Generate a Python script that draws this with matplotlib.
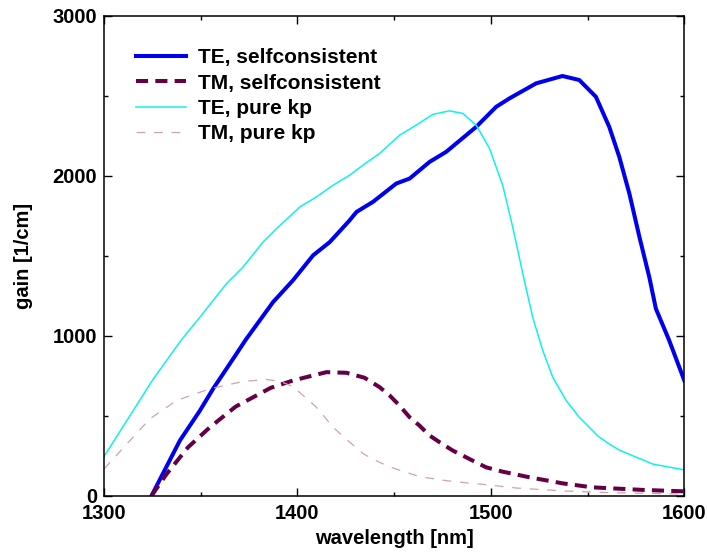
import matplotlib
matplotlib.use('Agg')
import matplotlib.pyplot as plt
from matplotlib.ticker import MultipleLocator

# TE, selfconsistent
te_sc_x=[1324.6,1339.2,1349.6,1356.4,1368.5,1373.3,1387.4,1397.7,1408.1,1416.7,1427,1430.5,1439,1451.1,1458,1468.3,1476.9,1492.4,1502.7,1509.6,1523.4,1537,1545.7,1554.3,1561.2,1566.4,1571.6,1576.8,1581.9,1585.3,1592.2,1600]
te_sc_y=[0,344,532,668,887,975,1210,1346,1502,1585,1721,1773,1836,1951,1982,2086,2149,2305,2430,2483,2577,2623,2598,2493,2305,2117,1888,1617,1366,1169,970,720]
# TM, selfconsistent
tm_sc_x=[1324.6,1332.4,1343.4,1354.7,1368.1,1386.2,1397.7,1415,1425.3,1434.7,1442.5,1447.7,1452.8,1458,1463.1,1468.3,1473.5,1480.3,1487.2,1492.4,1497.6,1506.1,1519.9,1537.1,1552.6,1578.4,1600]
tm_sc_y=[0,136,302,427,557,674,720,772,768,737,678,626,563,490,438,376,334,282,240,208,177,150,115,77,52,36,27]
# TE, pure kp
te_kp_x=[1300,1315.1,1325.5,1340.1,1349.6,1363.3,1371.9,1382.2,1389.2,1401.2,1409.8,1418.4,1427,1433.9,1442.5,1452.8,1461.4,1470,1478.6,1485.5,1492.4,1499.3,1506.1,1511.3,1516.5,1521.6,1526.8,1532,1538.9,1545.7,1555.7,1561.2,1566.4,1583.6,1600]
te_kp_y=[244,532,730,975,1116,1325,1429,1585,1669,1804,1867,1940,2003,2066,2139,2253,2316,2383,2405,2389,2316,2170,1940,1679,1388,1116,908,740,595,490,369,323,285,198,161]
# TM, pure kp
tm_kp_x=[1300,1313.4,1323.7,1337.5,1354.7,1371.9,1384,1390.9,1397.7,1409.8,1418.4,1427,1434.7,1442.5,1449.4,1463.1,1476.9,1489,1497.6,1513,1537.1,1561.2,1600]
tm_kp_y=[167,344,480,595,668,714,726,715,682,553,428,334,257,208,173,119,94,78,69,48,30,19,10]

plt.rcParams['font.family']=['Liberation Sans','DejaVu Sans']
plt.rcParams['font.weight']='bold'
fig=plt.figure(figsize=(7.07,5.56),dpi=100)
ax=fig.add_axes([0.1471,0.1085,0.8208,0.8633])

ax.plot(te_sc_x,te_sc_y,color='#0000f0',lw=2.9,label='TE, selfconsistent')
ax.plot(tm_sc_x,tm_sc_y,color='#650047',lw=2.9,ls=(0,(3,1.8)),label='TM, selfconsistent')
ax.plot(te_kp_x,te_kp_y,color='#10f0f0',lw=1.1,label='TE, pure kp')
ax.plot(tm_kp_x,tm_kp_y,color='#d0a4a4',lw=0.9,ls=(0,(7,7)),label='TM, pure kp')

ax.set_xlim(1300,1600)
ax.set_ylim(0,3000)
ax.xaxis.set_major_locator(MultipleLocator(100))
ax.xaxis.set_minor_locator(MultipleLocator(50))
ax.yaxis.set_major_locator(MultipleLocator(1000))
ax.yaxis.set_minor_locator(MultipleLocator(500))
for s in ax.spines.values():s.set_linewidth(1.1)
ax.tick_params(which='both',direction='in',top=True,right=True,labelsize=14.5,width=1)
ax.tick_params(which='major',length=5.5)
ax.tick_params(which='minor',length=3)
ax.tick_params(axis='x',pad=6)
ax.tick_params(axis='y',pad=5)
for lab in ax.get_xticklabels()+ax.get_yticklabels():lab.set_fontweight('bold')
ax.set_xlabel('wavelength [nm]',fontsize=14.5,fontweight='bold',labelpad=4)
ax.set_ylabel('gain [1/cm]',fontsize=14.5,fontweight='bold',labelpad=14)
ax.legend(loc='upper left',bbox_to_anchor=(0.056,0.932),frameon=False,borderaxespad=0,borderpad=0,
          handlelength=2.4,handletextpad=0.53,labelspacing=0.3,prop={'weight':'bold','size':15})
fig.savefig('out.png',dpi=100)
